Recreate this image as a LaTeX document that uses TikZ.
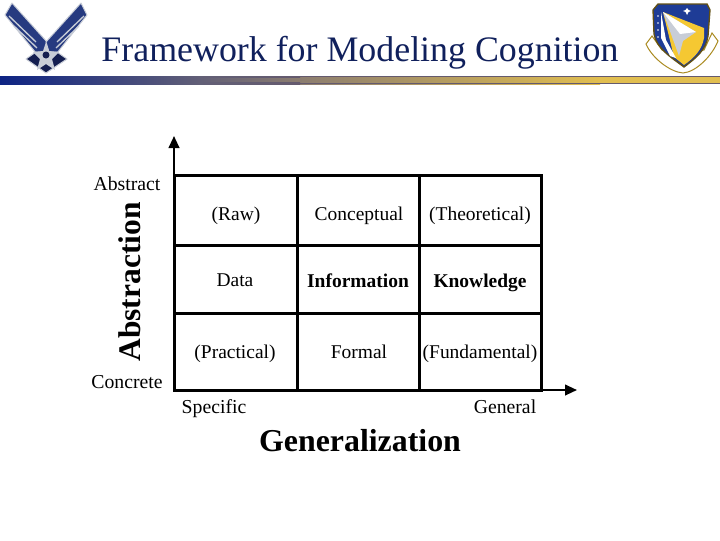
\documentclass[tikz,border=0pt]{standalone}
\usepackage{fontspec}
\setmainfont{Liberation Serif}
\usetikzlibrary{arrows.meta}
\definecolor{titleblue}{RGB}{16,32,92}
\definecolor{barblue}{RGB}{14,36,132}
\definecolor{bargray}{RGB}{140,125,112}
\definecolor{bargold}{RGB}{225,190,80}
\definecolor{bardark}{RGB}{100,90,110}
\definecolor{wingblue}{RGB}{38,58,128}
\definecolor{wingdark}{RGB}{20,30,80}
\definecolor{silver}{RGB}{200,205,215}
\definecolor{shieldblue}{RGB}{30,60,150}
\definecolor{shieldgold}{RGB}{245,200,50}
\tikzset{every picture/.style={line width=0.75pt}}
\tikzset{
  cellbox/.style={draw=black,line width=2.25pt,line cap=rect},
  axisline/.style={draw=black,line width=1.5pt,-{Triangle[length=9pt,width=8pt]}},
  celltext/.style={font=\fontsize{14.6}{16}\selectfont,inner sep=0pt,anchor=base},
  boldtext/.style={font=\fontsize{14.6}{16}\selectfont\bfseries,inner sep=0pt,anchor=base},
  endtext/.style={font=\fontsize{14.8}{16}\selectfont,inner sep=0pt,anchor=base},
  axistext/.style={font=\fontsize{23.6}{26}\selectfont\bfseries,inner sep=0pt,anchor=base},
  wing/.style={fill=wingblue,draw=silver,line width=0.75pt,line join=round},
}

\begin{document}
\begin{tikzpicture}[x=0.75pt,y=0.75pt,yscale=-1,xscale=1]
\useasboundingbox (0,0) rectangle (720,540);

%Shape: Bar
\shade [left color=barblue,right color=bargray] (0,76) rectangle (300,84);
\shade [left color=bargray,right color=bargold] (299.5,76) rectangle (600,84);
\fill [bargold] (599.5,76) rectangle (720,84);
\shade [left color=barblue!33!bargray,right color=bardark] (200,82.5) rectangle (300,84);
\fill [bardark] (299.5,82.5) rectangle (720,84);
\shade [left color=barblue!33!bargray,right color=bardark] (200,76) rectangle (300,77);
\fill [bardark] (299.5,76) rectangle (720,77);

%Shape: Left wing
\draw [wing] (12,3) -- (5,15) -- (36,53) -- (44,52) -- (47,42) -- cycle;
%Shape: Right wing
\draw [wing] (81,3) -- (87,15) -- (57,53) -- (49,52) -- (46,42) -- cycle;
\draw [silver,line width=1pt] (9,16) -- (36,42);
\draw [silver,line width=1pt] (14,26) -- (37,48);
\draw [silver,line width=1pt] (84,16) -- (57,42);
\draw [silver,line width=1pt] (79,26) -- (56,48);
%Shape: Lower diamond
\draw [wing,fill=wingdark] (46,73) -- (26,59) -- (36,52) -- (57,52) -- (67,59) -- cycle;
%Shape: Star
\fill [silver] (46,42) -- (49,51) -- (59,52) -- (52,59) -- (55,70) -- (46,64) -- (37,70) -- (40,59) -- (33,52) -- (43,51) -- cycle;
\fill [wingdark] (46,55) circle (3.5);

%Shape: Right scroll
\draw [draw=black!30!shieldgold,fill=white,line width=0.75pt] (646,44) .. controls (652,58) and (670,72) .. (683,73) .. controls (696,72) and (712,56) .. (718,41) -- (712,33) -- (704,50) -- (662,50) -- (652,36) -- cycle;
%Shape: Right shield
\draw [draw=black!60!shieldgold,fill=shieldblue,line width=1pt] (658,4) -- (707,4) -- (710,10) -- (708,36) .. controls (706,50) and (696,58) .. (684,67) .. controls (672,58) and (656,48) .. (654,34) -- (653,10) -- cycle;
\fill [shieldgold] (663,12) -- (704,28) -- (704,38) .. controls (702,50) and (694,58) .. (684,65) -- (674,57) -- cycle;
\fill [silver] (663,12) -- (696,32) -- (683,41) -- (679,56) -- cycle;
\fill [white] (663,12) -- (696,32) -- (680,34) -- cycle;
\fill [white] (661,12) -- (666,40) -- (676,58) -- (670,56) -- (661,38) -- cycle;
\fill [white] (687,8) -- (688.5,10) -- (691,11) -- (688.5,12) -- (687,15) -- (685.5,12) -- (683,11) -- (685.5,10) -- cycle;
\foreach \stary in {16,23,30,37}
  \fill [white] (658,\stary) circle (0.9);

% Text Node
\draw (360,61) node [inner sep=0pt,anchor=base,text=titleblue,font=\fontsize{26.9}{30}\selectfont] (title) {Framework for Modeling Cognition};

%Shape: Axes
\coordinate (origin) at (174,390);
\coordinate (ytip) at (174,136);
\coordinate (xtip) at (577,390);
\draw [axisline] (origin) -- (ytip);
\draw [axisline] (origin) -- (xtip);

%Shape: Rectangle
\draw [cellbox] (174,175) rectangle (297,245);
\draw [cellbox] (297,175) rectangle (419,245);
\draw [cellbox] (419,175) rectangle (541,245);
\draw [cellbox] (174,245) rectangle (297,313);
\draw [cellbox] (297,245) rectangle (419,313);
\draw [cellbox] (419,245) rectangle (541,313);
\draw [cellbox] (174,313) rectangle (297,390);
\draw [cellbox] (297,313) rectangle (419,390);
\draw [cellbox] (419,313) rectangle (541,390);

% Text Node
\draw (236,220) node [celltext] (raw) {(Raw)};
% Text Node
\draw (359,220) node [celltext] (conceptual) {Conceptual};
% Text Node
\draw (480,220) node [celltext] (theoretical) {(Theoretical)};
% Text Node
\draw (235,286) node [celltext] (data) {Data};
% Text Node
\draw (358,287) node [boldtext] (information) {Information};
% Text Node
\draw (480,287) node [boldtext] (knowledge) {Knowledge};
% Text Node
\draw (235,358) node [celltext] (practical) {(Practical)};
% Text Node
\draw (359,358) node [celltext] (formal) {Formal};
% Text Node
\draw (480,358) node [celltext] (fundamental) {(Fundamental)};
% Text Node
\draw (127,190) node [endtext] (abstract) {Abstract};
% Text Node
\draw (127,388) node [endtext] (concrete) {Concrete};
% Text Node
\draw (214,413) node [endtext] (specific) {Specific};
% Text Node
\draw (505,413) node [endtext] (general) {General};
% Text Node
\draw (140,282) node [axistext,rotate=90] (abstraction) {Abstraction};
% Text Node
\draw (360,451) node [axistext,font=\fontsize{23.9}{26}\selectfont\bfseries] (generalization) {Generalization};

\end{tikzpicture}
\end{document}
